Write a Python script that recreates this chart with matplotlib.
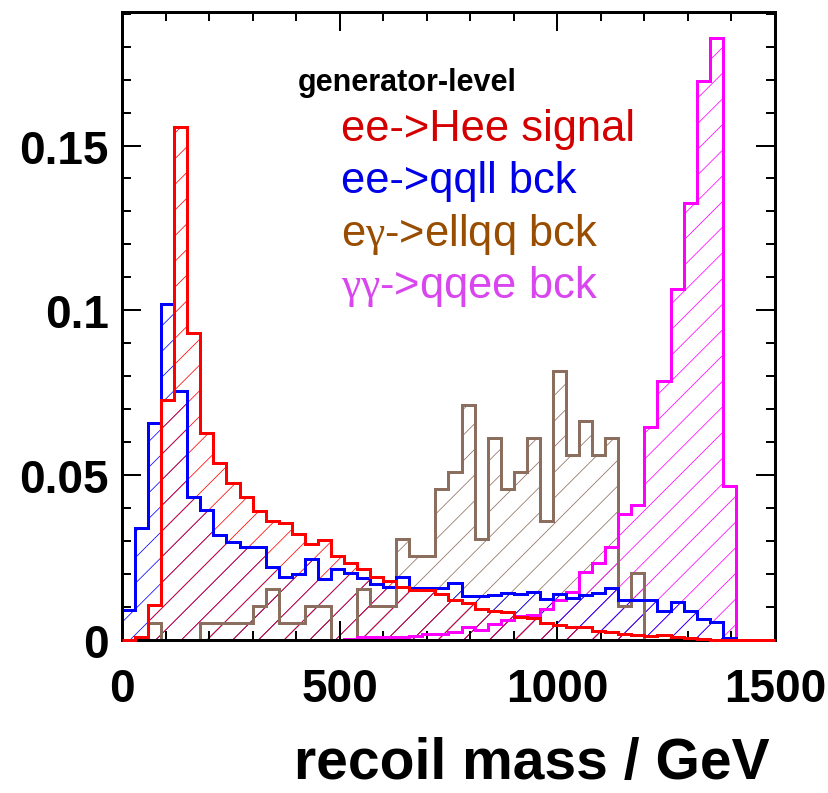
import numpy as np
import matplotlib
matplotlib.use("Agg")
import matplotlib.pyplot as plt
from matplotlib.ticker import MultipleLocator, FuncFormatter

# canvas in pixels; dpi 77 gives ROOT-like hatch spacing (~13 px)
W, H, DPI = 828, 794, 77
PT = 72.0 / DPI  # pixel -> point

bin_width = 30
x_max = 1500

# normalised histograms, 30 GeV bins from 0 to 1500
signal = [0.0, 0.0010, 0.0107, 0.0729, 0.1555, 0.0930, 0.0627, 0.0537, 0.0475, 0.0433,
          0.0390, 0.0361, 0.0356, 0.0323, 0.0290, 0.0304, 0.0254, 0.0233, 0.0216, 0.0190,
          0.0180, 0.0162, 0.0152, 0.0152, 0.0140, 0.0120, 0.0111, 0.0094, 0.0089, 0.0084,
          0.0071, 0.0067, 0.0051, 0.0047, 0.0040, 0.0038, 0.0026, 0.0023, 0.0018, 0.0015,
          0.0012, 0.0014, 0.0008, 0.0006, 0.0003, 0.0001, 0.0, 0.0, 0.0, 0.0]
qqll = [0.0091, 0.0339, 0.0659, 0.1020, 0.0754, 0.0433, 0.0394, 0.0319, 0.0297, 0.0283,
        0.0283, 0.0222, 0.0191, 0.0200, 0.0246, 0.0185, 0.0214, 0.0202, 0.0189, 0.0170,
        0.0162, 0.0192, 0.0158, 0.0158, 0.0158, 0.0172, 0.0132, 0.0132, 0.0135, 0.0142,
        0.0140, 0.0145, 0.0125, 0.0140, 0.0128, 0.0138, 0.0142, 0.0159, 0.0120, 0.0121,
        0.0122, 0.0088, 0.0116, 0.0088, 0.0063, 0.0055, 0.0006, 0.0, 0.0, 0.0]
ellqq = [0.0, 0.0, 0.0053, 0.0, 0.0, 0.0, 0.0053, 0.0053, 0.0053, 0.0053,
         0.0104, 0.0155, 0.0053, 0.0053, 0.0104, 0.0104, 0.0, 0.0, 0.0155, 0.0104,
         0.0104, 0.0306, 0.0256, 0.0256, 0.0458, 0.0510, 0.0712, 0.0306, 0.0613, 0.0458,
         0.0510, 0.0613, 0.0360, 0.0815, 0.0562, 0.0664, 0.0562, 0.0613, 0.0104, 0.0204,
         0.0, 0.0, 0.0, 0.0, 0.0, 0.0, 0.0, 0.0, 0.0, 0.0]
qqee = [0.0, 0.0, 0.0, 0.0, 0.0, 0.0, 0.0, 0.0, 0.0, 0.0,
        0.0, 0.0, 0.0, 0.0, 0.0, 0.0, 0.0, 0.0003, 0.0008, 0.0008,
        0.0008, 0.0010, 0.0012, 0.0018, 0.0018, 0.0024, 0.0039, 0.0030, 0.0049, 0.0061,
        0.0073, 0.0075, 0.0095, 0.0122, 0.0146, 0.0207, 0.0235, 0.0283, 0.0383, 0.0408,
        0.0646, 0.0787, 0.1065, 0.1327, 0.1695, 0.1827, 0.0467, 0.0, 0.0, 0.0]

# gamma drawn through mathtext so it takes the serif (Symbol-like) shape
labels = ["ee->Hee signal", "ee->qqll bck", r"e$\gamma$->ellqq bck", r"$\gamma\gamma$->qqee bck"]
line_colors = ["#ff0000", "#0000ff", "#8c6e5f", "#ff00ff"]
text_colors = ["#d40000", "#0000e6", "#994d00", "#d946ef"]

plt.rcParams['font.family'] = ['Liberation Sans', 'DejaVu Sans']
plt.rcParams['font.weight'] = 'bold'
plt.rcParams['hatch.linewidth'] = 0.7
plt.rcParams['mathtext.fontset'] = 'custom'
plt.rcParams['mathtext.rm'] = 'Liberation Serif:weight=normal'
plt.rcParams['mathtext.it'] = 'Liberation Serif:weight=normal'

fig = plt.figure(figsize=(W / DPI, H / DPI), dpi=DPI)
ax = fig.add_axes([122 / W, 1 - 641 / H, 653 / W, 628 / H])

edges = np.arange(0, x_max + bin_width, bin_width)
hists = [signal, qqll, ellqq, qqee]
# draw order: brown, magenta, blue, red on top
for i in [2, 3, 1, 0]:
    vals = np.array(hists[i])
    c = line_colors[i]
    ax.stairs(vals, edges, fill=True, facecolor='none', edgecolor=c,
              hatch='/', linewidth=0, zorder=1)
    ax.stairs(vals, edges, baseline=0, color=c, linewidth=3 * PT,
              zorder=3 if i == 0 else 2, clip_on=False)

ax.set_xlim(0, x_max)
ax.set_ylim(0, 0.1905)

ax.xaxis.set_major_locator(MultipleLocator(500))
ax.xaxis.set_minor_locator(MultipleLocator(100))
ax.yaxis.set_major_locator(MultipleLocator(0.05))
ax.yaxis.set_minor_locator(MultipleLocator(0.01))
ax.xaxis.set_major_formatter(FuncFormatter(lambda v, p: "%g" % round(v, 4)))
ax.yaxis.set_major_formatter(FuncFormatter(lambda v, p: "%g" % round(v, 4)))

ax.tick_params(which='both', direction='in', top=True, right=True, width=2 * PT)
ax.tick_params(which='major', length=19 * PT, labelsize=46 * PT)
ax.tick_params(which='minor', length=9 * PT)
ax.tick_params(axis='x', pad=27 * PT)
ax.tick_params(axis='y', pad=13 * PT)
for s in ax.spines.values():
    s.set_linewidth(3 * PT)

fig.text(770 / W, 1 - 779 / H, "recoil mass / GeV", ha='right', va='baseline',
         fontsize=57 * PT, fontweight='bold')

fig.text(298 / W, 1 - 91 / H, "generator-level", ha='left', va='baseline',
         fontsize=30.5 * PT, fontweight='bold', color='black')
for k in range(4):
    fig.text(341 / W, 1 - (141 + 52.5 * k) / H, labels[k], ha='left', va='baseline',
             fontsize=43.5 * PT, fontweight='normal', color=text_colors[k])

fig.savefig("out.png", dpi=DPI)
